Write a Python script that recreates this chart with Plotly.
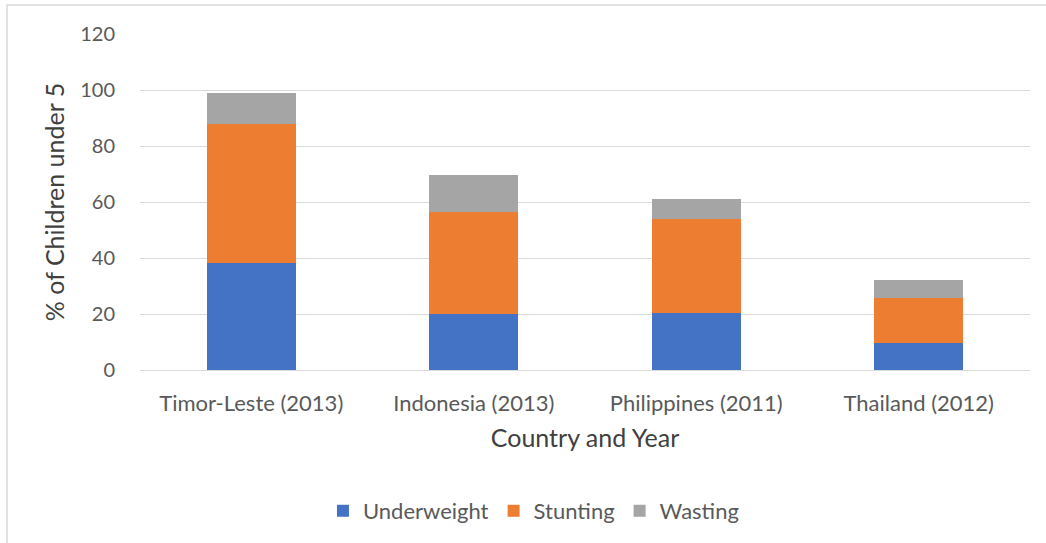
import plotly.graph_objects as go

# 数据
countries = ["Timor-Leste (2013)", "Indonesia (2013)", "Philippines (2011)", "Thailand (2012)"]
underweight = [38.2, 20.0, 20.3, 9.6]
stunting = [49.7, 36.4, 33.6, 16.1]
wasting = [11.0, 13.2, 7.2, 6.4]

FONT = "Lato, Carlito, Calibri, sans-serif"
GRAY_TEXT = "#595959"

fig = go.Figure()
for name, vals, color in [
    ("Underweight", underweight, "#4472C4"),
    ("Stunting", stunting, "#ED7D31"),
    ("Wasting", wasting, "#A5A5A5"),
]:
    fig.add_trace(go.Bar(
        x=countries, y=vals, name=name,
        marker=dict(color=color, line=dict(width=0)),
    ))

# 绘图区：x 140..1030, y 34..370
fig.update_layout(
    width=1046, height=543,
    barmode="stack", bargap=0.6,
    paper_bgcolor="white", plot_bgcolor="white",
    font=dict(family=FONT, size=18, color=GRAY_TEXT),
    margin=dict(l=140, r=16, t=34, b=173),
    legend=dict(
        orientation="h", xref="container", yref="container",
        x=0.510, xanchor="center", y=0.059, yanchor="middle",
        font=dict(size=22, color=GRAY_TEXT), itemwidth=30,
        traceorder="normal",
    ),
    # 图表外框（仅左、上边可见）
    shapes=[dict(
        type="rect", xref="paper", yref="paper",
        x0=-133 / 890, x1=1 + 40 / 890, y0=-190 / 336, y1=365 / 336,
        line=dict(color="#D9D9D9", width=1.5), fillcolor="rgba(0,0,0,0)",
    )],
)
fig.update_yaxes(
    range=[0, 120], dtick=20, showgrid=True, gridcolor="#D9D9D9", gridwidth=1,
    zeroline=False, showline=False, ticks="outside", ticklen=20, tickcolor="white",
    tickfont=dict(size=20, color=GRAY_TEXT),
    title=dict(text="% of Children under 5", font=dict(size=25, color="#404040"), standoff=8),
)
fig.update_xaxes(
    showline=True, linecolor="#D9D9D9", linewidth=1, showgrid=False,
    ticks="outside", ticklen=14, tickcolor="white",
    tickfont=dict(size=22, color=GRAY_TEXT),
    title=dict(text="Country and Year", font=dict(size=25, color="#404040"), standoff=14),
)

fig.write_html(
    "out.html",
    config={"displayModeBar": False},
    post_script="document.body.style.margin='0';",
)
